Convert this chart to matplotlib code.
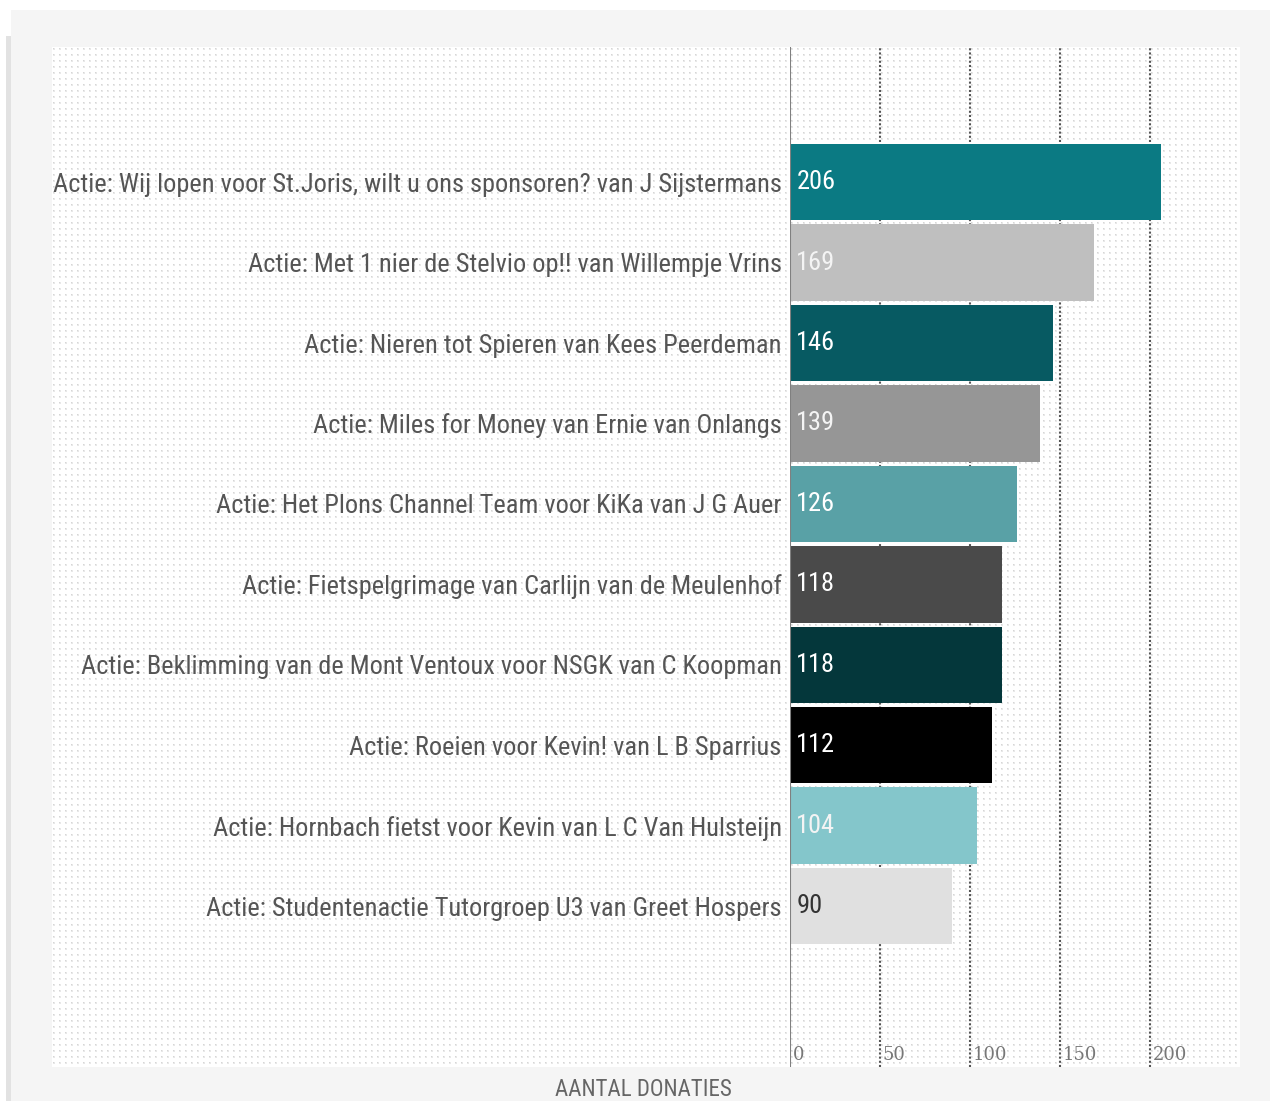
import matplotlib.pyplot as plt
import numpy as np
from matplotlib import font_manager
from matplotlib.patches import Rectangle

labels = [
    "Actie: Wij lopen voor St.Joris, wilt u ons sponsoren? van J Sijstermans",
    "Actie: Met 1 nier de Stelvio op!! van Willempje Vrins",
    "Actie: Nieren tot Spieren van Kees Peerdeman",
    "Actie: Miles for Money van Ernie van Onlangs",
    "Actie: Het Plons Channel Team voor KiKa van J G Auer",
    "Actie: Fietspelgrimage van Carlijn van de Meulenhof",
    "Actie: Beklimming van de Mont Ventoux voor NSGK van C Koopman",
    "Actie: Roeien voor Kevin! van L B Sparrius",
    "Actie: Hornbach fietst voor Kevin van L C Van Hulsteijn",
    "Actie: Studentenactie Tutorgroep U3 van Greet Hospers",
]
values = [206, 169, 146, 139, 126, 118, 118, 112, 104, 90]
colors = ["#0b7a83", "#bfbfbf", "#075a62", "#969696", "#59a1a6",
          "#4a4a4a", "#04373b", "#000000", "#84c6cb", "#e0e0e0"]
value_colors = ["white", "#f4f4f4", "white", "#f4f4f4", "white",
                "white", "white", "white", "#f4f4f4", "#333333"]
xticks = [0, 50, 100, 150, 200]

# pick a narrow font if one is installed
available = {f.name for f in font_manager.fontManager.ttflist}
narrow = "DejaVu Sans"
for cand in ["Liberation Sans Narrow", "Roboto Condensed", "Open Sans Condensed",
             "DejaVu Sans Condensed", "Noto Sans Condensed", "Roboto"]:
    if cand in available:
        narrow = cand
        break

W, H = 1270, 1101
fig = plt.figure(figsize=(W / 100, H / 100), dpi=100)
fig.patch.set_facecolor("white")

# light panel with a soft shadow on the left
fig.patches.append(Rectangle((6 / W, 0), 6 / W, 1 - 36 / H, transform=fig.transFigure,
                             facecolor="#e2e2e2", edgecolor="none", zorder=-2))
fig.patches.append(Rectangle((11 / W, 0), 1 - 11 / W, 1 - 10 / H, transform=fig.transFigure,
                             facecolor="#f5f5f5", edgecolor="none", zorder=-1))


def px_axes(x0, y0, x1, y1):
    return [x0 / W, 1 - y1 / H, (x1 - x0) / W, (y1 - y0) / H]


# dotted background
bg = fig.add_axes(px_axes(52, 47, 1240, 1067))
pw, ph = 1240 - 52, 1067 - 47
pattern = np.ones((ph, pw, 3))
pattern[1::6, 1::6] = 0.84
pattern[2::6, 1::6] = 0.91
pattern[1::6, 2::6] = 0.91
pattern[2::6, 2::6] = 0.91
bg.imshow(pattern, interpolation="nearest", aspect="auto")
bg.set_axis_off()

ax = fig.add_axes(px_axes(790, 47, 1240, 1067))
ax.patch.set_alpha(0)
y = np.arange(len(values))
ax.barh(y, values, height=0.95, color=colors, zorder=3)
ax.set_xlim(0, 250)
ax.set_ylim(11.0, -1.68)
for s in ax.spines.values():
    s.set_visible(False)
ax.axvline(0, color="#808080", lw=1.5, zorder=4)
for t in xticks[1:]:
    ax.axvline(t, color="#555555", lw=1.5, ls=(0, (1, 1)), zorder=2)
ax.set_xticks([])
ax.set_yticks(y)
ax.set_yticklabels(labels, fontsize=19, color="#555555", family=narrow)
ax.tick_params(axis="y", length=0, pad=6)

for i, v in enumerate(values):
    ax.text(3.5, i, str(v), va="center", ha="left", fontsize=19,
            color=value_colors[i], family=narrow, zorder=5)

for t in xticks:
    ax.text(t + 1.5, 10.85, str(t), va="center", ha="left", fontsize=13,
            color="#777777", family="DejaVu Serif")

fig.text(643 / W, 1 - 1090 / H, "AANTAL DONATIES", ha="center", va="center",
         fontsize=16.5, color="#666666", family=narrow)

fig.savefig("out.png", dpi=100, facecolor="white")
